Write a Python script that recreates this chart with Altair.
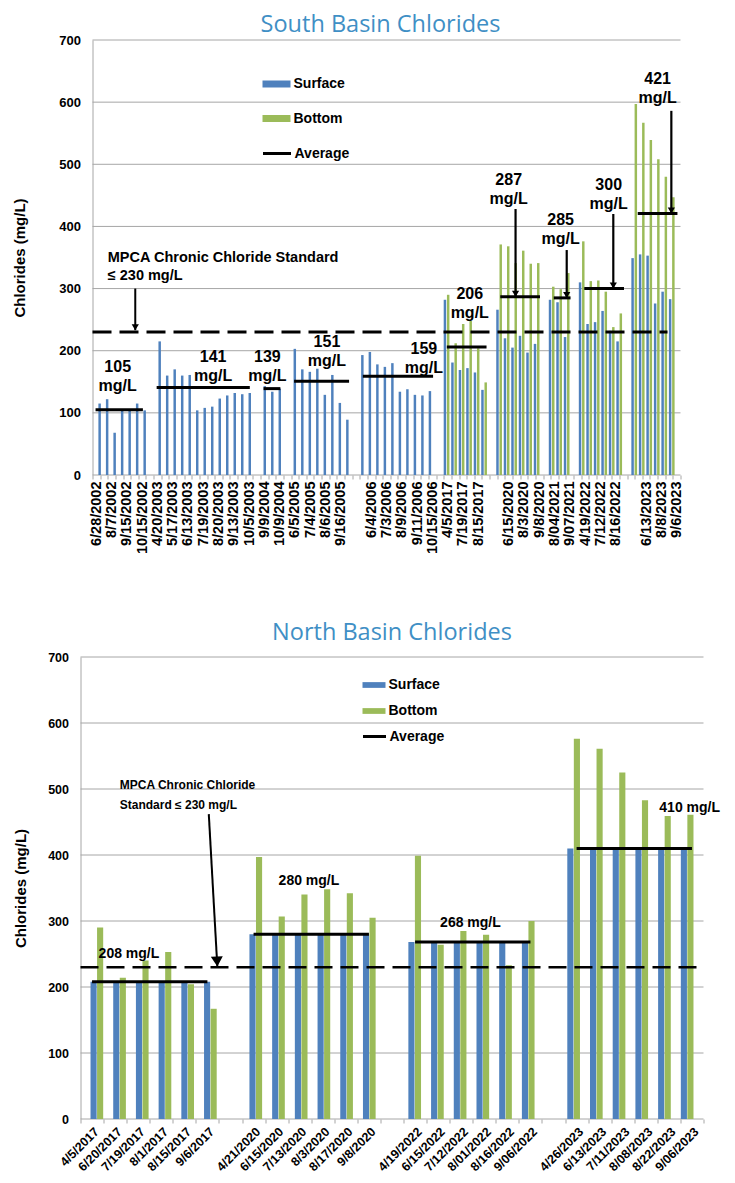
import altair as alt
import pandas as pd

FONT = "Liberation Sans"
TITLE_FONT = "Open Sans"
BLUE = "#4f81bd"
GREEN = "#9bbb59"
TITLE_BLUE = "#3f8fc5"
GRAY = "#a6a6a6"
BAR_PATH = "M-1,-0.25H1V0.25H-1Z"
HEAD_PATH = "M-0.6,-1L0.6,-1L0,0Z"

# ---------------- South Basin (one slot per sample, blank slot between years) ----------------
south_labels = [
    "6/28/2002", "", "8/7/2002", "", "9/15/2002", "", "10/15/2002", "",
    "4/20/2003", "", "5/17/2003", "", "6/13/2003", "", "7/19/2003", "", "8/20/2003", "", "9/13/2003", "", "10/5/2003", "",
    "9/9/2004", "", "10/9/2004", "",
    "6/5/2005", "", "7/4/2005", "", "8/6/2005", "", "9/16/2005", "", "",
    "", "6/4/2006", "", "7/3/2006", "", "8/9/2006", "", "9/11/2006", "", "10/15/2006", "",
    "4/5/2017", "", "7/19/2017", "", "8/15/2017", "", "",
    "", "6/15/2020", "", "8/3/2020", "", "9/8/2020", "",
    "8/04/2021", "", "9/07/2021", "",
    "4/19/2022", "", "7/12/2022", "", "8/16/2022", "", "",
    "", "6/13/2023", "", "8/8/2023", "", "9/6/2023",
]
south_surface = [
    115, 122, 68, 104, 104, 115, 104, None,
    215, 160, 170, 160, 161, 104, 108, 110, 123, 128, 132, 130, 132, None,
    143, 134, 139, None,
    203, 170, 166, 171, 129, 161, 116, 89, None,
    193, 198, 178, 174, 180, 134, 138, 129, 128, 135, None,
    282, 181, 169, 172, 165, 137, None,
    266, 220, 205, 224, 197, 211, None,
    282, 278, 222, None,
    310, 243, 246, 264, 232, 215, None,
    349, 355, 353, 276, 295, 283,
]
south_bottom = [None] * 46 + [
    290, 212, 243, 248, 204, 149, None,
    371, 368, 341, 361, 340, 341, None,
    303, 299, 325, None,
    376, 312, 313, 295, 238, 260, None,
    597, 567, 539, 508, 480, 447,
]
south_avg = [105, 141, 139, 151, 159, 206, 287, 285, 300, 421]
south_avg_first = [0, 8, 22, 26, 35, 46, 53, 60, 64, 71]
south_avg_last = [6, 20, 24, 33, 44, 51, 58, 62, 69, 76]
south_note_text = ["105\nmg/L", "141\nmg/L", "139\nmg/L", "151\nmg/L", "159\nmg/L",
                   "206\nmg/L", "287\nmg/L", "285\nmg/L", "300\nmg/L", "421\nmg/L"]
south_note_x = [3.3, 15.8, 22.9, 30.7, 43.4, 49.4, 54.5, 61.3, 67.6, 74.0]
south_note_y = [174, 190, 190, 214, 203, 291, 475, 411, 467, 637]
south_arrow_x = [55.4, 62.1, 68.2, 75.8]
south_arrow_from = [428, 362, 420, 586]
south_arrow_to = [287, 285, 300, 421]
south_std_end = 75.3
south_std_text = ["MPCA Chronic Chloride Standard\n\u2264 230 mg/L"]
south_std_text_x = [2.0]
south_std_text_y = [349]
south_std_arrow_x = [5.6, 5.6]
south_std_arrow_y = [300, 233]

# ---------------- North Basin ----------------
north_labels = [
    "4/5/2017", "6/20/2017", "7/19/2017", "8/1/2017", "8/15/2017", "9/6/2017", "",
    "4/21/2020", "6/15/2020", "7/13/2020", "8/3/2020", "8/17/2020", "9/8/2020", "",
    "4/19/2022", "6/15/2022", "7/12/2022", "8/01/2022", "8/16/2022", "9/06/2022", "",
    "4/26/2023", "6/13/2023", "7/11/2023", "8/08/2023", "8/22/2023", "9/06/2023",
]
north_surface = [208, 208, 208, 208, 208, 208, None,
                 280, 280, 280, 280, 280, 280, None,
                 268, 268, 268, 268, 268, 268, None,
                 410, 410, 410, 410, 410, 410]
north_bottom = [290, 214, 240, 253, 204, 167, None,
                397, 307, 340, 348, 342, 305, None,
                399, 264, 285, 279, 233, 300, None,
                576, 561, 525, 483, 459, 461]
north_avg = [208, 280, 268, 410]
north_avg_first = [0, 7, 14, 21]
north_avg_last = [5, 12, 19, 26]
north_note_text = ["208 mg/L", "280 mg/L", "268 mg/L", "410 mg/L"]
north_note_x = [2.1, 9.9, 16.9, 26.4]
north_note_y = [250, 360, 297, 471]
north_arrow_x = []
north_arrow_from = []
north_arrow_to = []
north_std_end = 26.8
north_std_text = ["MPCA Chronic Chloride\nStandard  \u2264 230 mg/L"]
north_std_text_x = [1.7]
north_std_text_y = [506]
north_std_arrow_x = [5.56, 5.93]
north_std_arrow_y = [462, 231]

GRID_VALUES = [0, 100, 200, 300, 400, 500, 600, 700]


def panel(title, labels, surface, bottom, avg, avg_first, avg_last,
          note_text, note_x, note_y, arr_x, arr_from, arr_to,
          std_end, std_text, std_tx, std_ty, std_ax, std_ay, s):
    n = len(labels)
    shift, w = s["shift"], s["w"]
    rows = []
    for i, (a, b) in enumerate(zip(surface, bottom)):
        if a is not None:
            rows.append({"slot": i, "series": "Surface", "value": a, "base": 0})
        if b is not None:
            rows.append({"slot": i, "series": "Bottom", "value": b, "base": 0})
    bars_df = pd.DataFrame(rows)

    label_js = "[" + ",".join("'" + t + "'" for t in labels) + "][datum.value]"
    yscale = alt.Scale(domain=[0, 700], nice=False)
    yaxis = alt.Axis(values=GRID_VALUES, title="Chlorides (mg/L)", ticks=False, grid=False,
                     offset=-shift, domainColor=GRAY, labelFont=FONT, labelFontSize=s["ylfs"],
                     labelFontWeight="bold", labelColor="black", labelPadding=s["ylpad"],
                     titleFont=FONT, titleFontSize=s["ytfs"], titleFontWeight="bold",
                     titleColor="black", titlePadding=s["ytpad"])

    def Y(f):
        return alt.Y(f, type="quantitative", scale=yscale, axis=yaxis)

    xq_scale = alt.Scale(domain=[0, n], range=[shift, w], nice=False, zero=False)

    def XQ(f):
        return alt.X(f, type="quantitative", scale=xq_scale, axis=None)

    grid_df = pd.DataFrame({"x0": [0] * len(GRID_VALUES), "x1": [n] * len(GRID_VALUES),
                            "value": GRID_VALUES})
    grid = alt.Chart(grid_df).mark_rule(color=GRAY, strokeWidth=1).encode(
        x=XQ("x0"), x2="x1", y=Y("value"))

    # invisible layer carrying the category axis (ticks between slots, date labels)
    axis_layer = alt.Chart(bars_df).mark_tick(opacity=0).encode(
        x=alt.X("slot:O",
                scale=alt.Scale(domain=list(range(n)), range=[shift, w], paddingInner=0, paddingOuter=0),
                axis=alt.Axis(title=None, labelExpr=label_js, labelAngle=s["xangle"], labelFont=FONT,
                              labelFontSize=s["xlfs"], labelFontWeight="bold", labelColor="black",
                              tickBand="extent", tickSize=4, tickColor=GRAY, domain=False,
                              labelPadding=s["xlpad"], labelOverlap=False, grid=False)),
        y=Y("base"),
    )

    half, bw = s["half"], s["bw"]
    bars = alt.Chart(bars_df).transform_calculate(
        x0=f"datum.slot + 0.5 + (datum.series === 'Surface' ? {-half} : {half}) - {bw / 2}"
    ).transform_calculate(
        x1=f"datum.x0 + {bw}"
    ).mark_bar(orient="vertical").encode(
        x=XQ("x0:Q"), x2="x1:Q",
        y=Y("value"), y2="base:Q",
        color=alt.Color("series:N",
                        scale=alt.Scale(domain=["Surface", "Bottom"], range=[BLUE, GREEN]),
                        legend=alt.Legend(title=None, orient="none", legendX=s["lx"], legendY=s["ly"],
                                          symbolType=BAR_PATH, symbolSize=s["lsym"],
                                          labelFont=FONT, labelFontSize=14, labelFontWeight="bold",
                                          labelColor="black", rowPadding=s["lrow"], labelOffset=2)),
    )

    std_df = pd.DataFrame({"x0": [0], "x1": [std_end], "value": [230]})
    std_rule = alt.Chart(std_df).mark_rule(strokeWidth=s["dashw"], strokeDash=s["dash"], color="black").encode(
        x=XQ("x0"), x2="x1", y=Y("value"))

    avg_df = pd.DataFrame({"x0": [f + s["ap0"] for f in avg_first],
                           "x1": [l + s["ap1"] for l in avg_last],
                           "value": avg, "kind": ["Average"] * len(avg)})
    avg_rule = alt.Chart(avg_df).mark_rule(strokeWidth=3).encode(
        x=XQ("x0"), x2="x1", y=Y("value"),
        color=alt.Color("kind:N", scale=alt.Scale(domain=["Average"], range=["#000000"]),
                        legend=alt.Legend(title=None, orient="none", legendX=s["lx"], legendY=s["ly2"],
                                          symbolType="stroke", symbolSize=s["lsym"], symbolStrokeWidth=3,
                                          labelFont=FONT, labelFontSize=14, labelFontWeight="bold",
                                          labelColor="black", labelOffset=2)),
    )

    note_df = pd.DataFrame({"x": note_x, "value": note_y, "text": note_text})
    notes = alt.Chart(note_df).mark_text(font=FONT, fontSize=s["nfs"], fontWeight="bold", lineBreak="\n",
                                         lineHeight=s["nlh"], color="black", baseline="middle").encode(
        x=XQ("x"), y=Y("value"), text="text:N")

    std_txt_df = pd.DataFrame({"x": std_tx, "value": std_ty, "text": std_text})
    std_txt = alt.Chart(std_txt_df).mark_text(font=FONT, fontSize=s["sfs"], fontWeight="bold", lineBreak="\n",
                                              lineHeight=s["slh"], color="black", align="left",
                                              baseline="middle").encode(
        x=XQ("x"), y=Y("value"), text="text:N")

    sa_df = pd.DataFrame({"x": [std_ax[0]], "x1": [std_ax[1]], "value": [std_ay[0]], "value2": [std_ay[1]]})
    sa_line = alt.Chart(sa_df).mark_rule(strokeWidth=2, color="black").encode(
        x=XQ("x"), x2="x1", y=Y("value"), y2="value2")
    sa_head = alt.Chart(sa_df).mark_point(shape=HEAD_PATH, filled=True, size=s["shead"], color="black",
                                          opacity=1, angle=s["sangle"]).encode(
        x=XQ("x1"), y=Y("value2"))

    layers = [grid, axis_layer, bars, std_rule, avg_rule, notes, std_txt, sa_line, sa_head]
    if arr_x:
        arr_df = pd.DataFrame({"x": arr_x, "value": arr_from, "value2": arr_to})
        arr_line = alt.Chart(arr_df).mark_rule(strokeWidth=2.2, color="black").encode(
            x=XQ("x"), y=Y("value"), y2="value2")
        arr_head = alt.Chart(arr_df).mark_point(shape=HEAD_PATH, filled=True, size=s["ahead"],
                                                color="black", opacity=1).encode(
            x=XQ("x"), y=Y("value2"))
        layers += [arr_line, arr_head]

    return alt.layer(*layers).resolve_scale(x="independent", color="independent").properties(
        width=w, height=s["h"],
        title=alt.TitleParams(title, font=TITLE_FONT, fontSize=23.5, fontWeight="normal", color=TITLE_BLUE,
                              anchor="middle", frame="group", offset=s["toff"]))


south_style = dict(w=600, shift=12, h=435, half=0.216, bw=0.33, xangle=-90, xlfs=14.5, xlpad=2,
                   ylfs=13, ylpad=12, ytfs=15, ytpad=31,
                   lx=181, ly=29, ly2=98, lsym=784, lrow=12.5,
                   dashw=3, dash=[19, 8], ap0=0.4, ap1=0.6,
                   nfs=16, nlh=19, sfs=14.5, slh=18, shead=144, sangle=0, ahead=144, toff=-2)
north_style = dict(w=623, shift=0, h=462, half=0.144, bw=0.27, xangle=-45, xlfs=12.5, xlpad=2,
                   ylfs=12.5, ylpad=12, ytfs=15, ytpad=19,
                   lx=281, ly=15.5, ly2=66.5, lsym=529, lrow=6,
                   dashw=2.5, dash=[18, 8], ap0=0.5, ap1=0.5,
                   nfs=14, nlh=17, sfs=12, slh=20, shead=400, sangle=357, ahead=400, toff=7)

south = panel("South Basin Chlorides", south_labels, south_surface, south_bottom, south_avg,
              south_avg_first, south_avg_last, south_note_text, south_note_x, south_note_y,
              south_arrow_x, south_arrow_from, south_arrow_to, south_std_end, south_std_text,
              south_std_text_x, south_std_text_y, south_std_arrow_x, south_std_arrow_y, south_style)
north = panel("North Basin Chlorides", north_labels, north_surface, north_bottom, north_avg,
              north_avg_first, north_avg_last, north_note_text, north_note_x, north_note_y,
              north_arrow_x, north_arrow_from, north_arrow_to, north_std_end, north_std_text,
              north_std_text_x, north_std_text_y, north_std_arrow_x, north_std_arrow_y, north_style)

chart = alt.concat(south, north, columns=1, spacing=66).resolve_scale(
    color="independent").properties(
    padding={"left": 4.5, "top": 4, "right": 0, "bottom": 0}
).configure_view(stroke=None)

chart.save("out.html", embed_options={"renderer": "svg", "actions": False})
